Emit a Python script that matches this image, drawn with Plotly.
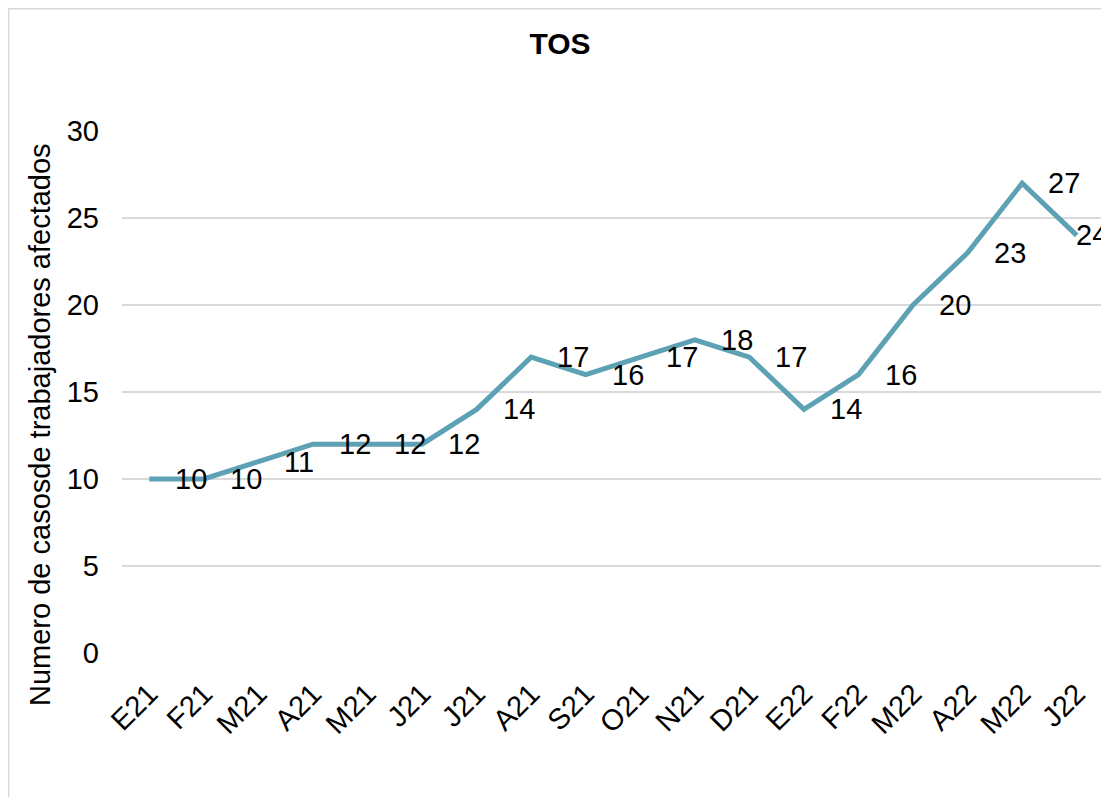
import plotly.graph_objects as go

# datos del grafico TOS
meses = ["E21", "F21", "M21", "A21", "M21", "J21", "J21", "A21", "S21",
         "O21", "N21", "D21", "E22", "F22", "M22", "A22", "M22", "J22"]
casos = [10, 10, 11, 12, 12, 12, 14, 17, 16, 17, 18, 17, 14, 16, 20, 23, 27, 24]
y_ticks = [0, 5, 10, 15, 20, 25, 30]

FONT = "Liberation Sans, Arial, sans-serif"
COLOR = "#5DA1B4"
GRID = "#D9D9D9"

idx = list(range(len(meses)))

fig = go.Figure()
fig.add_trace(go.Scatter(x=idx, y=casos, mode="lines",
                         line=dict(color=COLOR, width=5),
                         hoverinfo="skip", showlegend=False))

# etiquetas de datos a la derecha de cada punto
annots = []
for i, v in zip(idx, casos):
    shift = -3 if i == len(idx) - 1 else 24
    annots.append(dict(x=i, y=v, xref="x", yref="y", text=str(v),
                       showarrow=False, xanchor="left", yanchor="middle",
                       xshift=shift, font=dict(family=FONT, size=29, color="#000000")))

# titulo del eje y
annots.append(dict(x=-0.0835, y=0.4368, xref="paper", yref="paper",
                   text="Numero de casosde trabajadores afectados",
                   textangle=-90, showarrow=False, xanchor="center", yanchor="middle",
                   font=dict(family=FONT, size=29, color="#000000")))

# la pagina deja 8px de margen, por eso 1101x789
fig.update_layout(
    width=1101, height=789,
    margin=dict(l=114, r=5, t=123, b=144),
    paper_bgcolor="white", plot_bgcolor="white",
    title=dict(text="<b>TOS</b>", x=0.5014, y=0.9544, xref="container",
               yref="container", xanchor="center", yanchor="middle",
               font=dict(family=FONT, size=30, color="#000000")),
    font=dict(family=FONT, size=29, color="#000000"),
    annotations=annots,
    shapes=[dict(type="rect", xref="paper", yref="paper",
                 x0=-0.1154, x1=1.02, y0=-0.35, y1=1.2342,
                 line=dict(color=GRID, width=1.5), fillcolor="rgba(0,0,0,0)",
                 layer="below")],
)

fig.update_xaxes(range=[-0.5, len(meses) - 0.5], tickvals=idx, ticktext=meses,
                 tickangle=-45, showgrid=False, zeroline=False, showline=False,
                 ticks="", ticklabelstandoff=17,
                 tickfont=dict(family=FONT, size=29, color="#000000"))
fig.update_yaxes(range=[0, 30], tickvals=y_ticks, showgrid=True, gridcolor=GRID,
                 gridwidth=1.5, zeroline=False, showline=False, ticks="",
                 ticklabelstandoff=22,
                 tickfont=dict(family=FONT, size=29, color="#000000"))

fig.write_html("out.html")
